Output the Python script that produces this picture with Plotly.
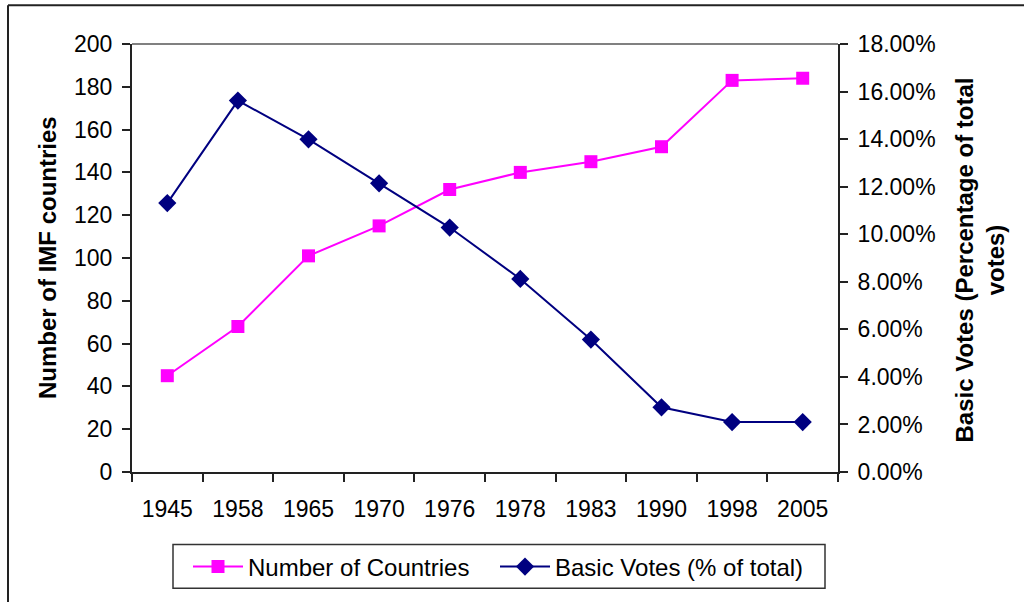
import plotly.graph_objects as go

years = ["1945", "1958", "1965", "1970", "1976", "1978", "1983", "1990", "1998", "2005"]
countries = [45, 68, 101, 115, 132, 140, 145, 152, 183, 184]
basic_votes = [0.1131, 0.1562, 0.1399, 0.1214, 0.1028, 0.0812, 0.0557, 0.0272, 0.0210, 0.0210]
left_ticks = [0, 20, 40, 60, 80, 100, 120, 140, 160, 180, 200]
right_ticks = [0.0, 0.02, 0.04, 0.06, 0.08, 0.10, 0.12, 0.14, 0.16, 0.18]
boundaries = [i - 0.5 for i in range(len(years) + 1)]

FONT = "Liberation Sans, Arial, sans-serif"
FS = 23
AX = "#222222"
W, L, T, PW, PH = 1024, 132, 44, 706, 431


def px(x):
    return (x - L) / PW


def py(y):
    return (T + PH - y) / PH


fig = go.Figure()
fig.add_trace(go.Scatter(
    x=years, y=countries, name="Number of Countries", mode="lines+markers",
    line=dict(color="#FF00FF", width=2),
    marker=dict(symbol="square", size=13, color="#FF00FF"),
    xaxis="x", yaxis="y"))
fig.add_trace(go.Scatter(
    x=years, y=basic_votes, name="Basic Votes (% of total)", mode="lines+markers",
    line=dict(color="#000080", width=2),
    marker=dict(symbol="diamond", size=14, color="#000080"),
    xaxis="x", yaxis="y2"))

fig.update_layout(
    width=1024, height=602,
    margin=dict(l=132, r=186, t=44, b=127, pad=0),
    paper_bgcolor="white", plot_bgcolor="white",
    font=dict(family=FONT, size=FS, color="black"),
    showlegend=True,
    xaxis=dict(type="category", tickson="boundaries", ticks="outside", ticklen=8,
               tickcolor=AX, tickwidth=1.5, showline=True, linecolor=AX, linewidth=2,
               showgrid=False, zeroline=False, ticklabelstandoff=15,
               tickfont=dict(size=FS), range=[-0.5, 9.5]),
    xaxis2=dict(overlaying="x", anchor="y", side="bottom", range=[-0.5, 9.5],
                tickmode="array", tickvals=boundaries, ticks="inside", ticklen=8,
                tickcolor=AX, tickwidth=1.5, showticklabels=False, showline=False,
                showgrid=False, zeroline=False),
    yaxis=dict(range=[0, 200], tickmode="array", tickvals=left_ticks, ticks="outside",
               ticklen=8, tickcolor=AX, tickwidth=1.5, showline=True, linecolor=AX,
               linewidth=2, showgrid=False, zeroline=False, ticklabelstandoff=5,
               tickfont=dict(size=FS)),
    yaxis3=dict(overlaying="y", anchor="x", side="left", range=[0, 200],
                tickmode="array", tickvals=left_ticks, ticks="inside", ticklen=8,
                tickcolor=AX, tickwidth=1.5, showticklabels=False, showline=False,
                showgrid=False, zeroline=False),
    yaxis2=dict(overlaying="y", anchor="x", side="right", range=[0, 0.18],
                tickmode="array", tickvals=right_ticks, tickformat=".2%",
                ticks="outside", ticklen=8, tickcolor=AX, tickwidth=1.5,
                showline=True, linecolor=AX, linewidth=2, showgrid=False,
                zeroline=False, ticklabelstandoff=5, tickfont=dict(size=FS)),
    yaxis4=dict(overlaying="y", anchor="x", side="right", range=[0, 0.18],
                tickmode="array", tickvals=right_ticks, ticks="inside", ticklen=8,
                tickcolor=AX, tickwidth=1.5, showticklabels=False, showline=False,
                showgrid=False, zeroline=False),
    legend=dict(orientation="h", x=px(188), xanchor="left", y=py(548), yanchor="top",
                borderwidth=0, bgcolor="rgba(0,0,0,0)", itemwidth=50,
                font=dict(size=24), entrywidth=242, entrywidthmode="pixels"),
    annotations=[
        dict(text="<b>Number of IMF countries</b>", textangle=-90, xref="paper", yref="paper",
             x=px(47), y=0.5, xanchor="center", yanchor="middle",
             showarrow=False, font=dict(size=24)),
        dict(text="<b>Basic Votes (Percentage of total<br>votes)</b>", textangle=-90,
             xref="paper", yref="paper", x=px(980), y=py(262),
             xanchor="center", yanchor="middle", showarrow=False, font=dict(size=24)),
    ],
    shapes=[
        dict(type="line", xref="paper", yref="paper", x0=0, x1=1, y0=1, y1=1,
             line=dict(color="#808080", width=2)),
        dict(type="line", xref="paper", yref="paper", x0=px(8), x1=px(1030),
             y0=py(5), y1=py(5), line=dict(color="#222222", width=2)),
        dict(type="line", xref="paper", yref="paper", x0=px(8), x1=px(8),
             y0=py(5), y1=py(610), line=dict(color="#222222", width=2)),
        dict(type="rect", xref="paper", yref="paper", x0=px(173), x1=px(825),
             y0=py(548), y1=py(592), line=dict(color="#333333", width=1.5),
             fillcolor="rgba(0,0,0,0)", layer="below"),
    ],
)

fig.write_html("out.html", post_script="document.body.style.margin='0px';",
               config={"displayModeBar": False})
